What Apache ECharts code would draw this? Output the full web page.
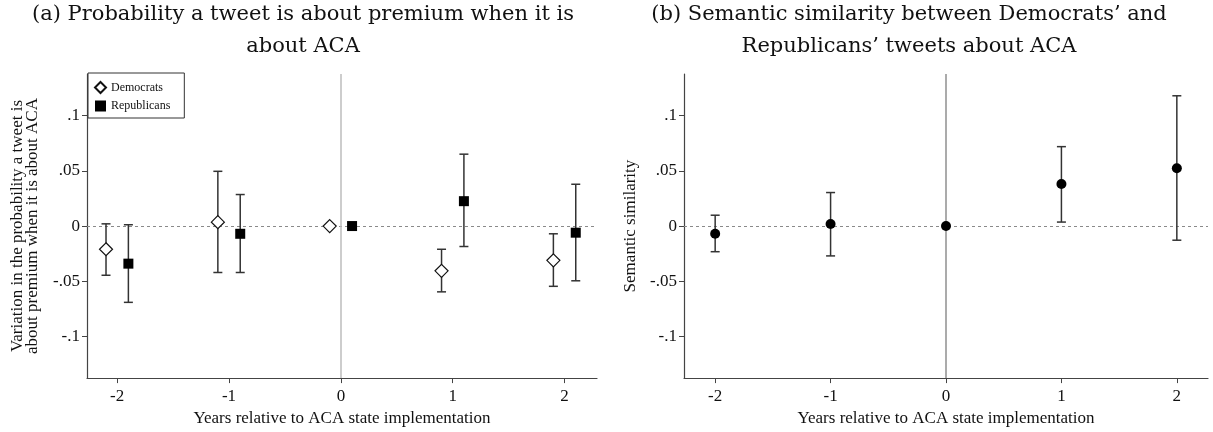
<!DOCTYPE html>
<html>
<head>
<meta charset="utf-8">
<script src="https://cdn.jsdelivr.net/npm/echarts@6/dist/echarts.min.js"></script>
<style>
html,body{margin:0;padding:0;background:#fff;}
#chart{width:1213px;height:432px;}
</style>
</head>
<body>
<div id="chart"></div>
<script>
// ---- data ----
const years = [-2, -1, 0, 1, 2];
const xTickLabels = ['-2', '-1', '0', '1', '2'];
const yTickValues = [-0.1, -0.05, 0, 0.05, 0.1];
const yTickLabels = ['-.1', '-.05', '0', '.05', '.1'];

const demEst = [-0.021, 0.0035, 0, -0.0405, -0.031];
const demLo  = [-0.0445, -0.042, null, -0.0595, -0.0545];
const demHi  = [0.002, 0.0495, null, -0.021, -0.007];

const repEst = [-0.034, -0.007, 0, 0.0225, -0.006];
const repLo  = [-0.069, -0.042, null, -0.0185, -0.0495];
const repHi  = [0.0012, 0.0285, null, 0.065, 0.0378];

const simEst = [-0.007, 0.0018, 0, 0.038, 0.0523];
const simLo  = [-0.0232, -0.027, null, 0.0036, -0.0128];
const simHi  = [0.0098, 0.0303, null, 0.0718, 0.1178];

const titleA = '(a) Probability a tweet is about premium when it is\nabout ACA';
const titleB = '(b) Semantic similarity between Democrats\u2019 and\nRepublicans\u2019 tweets about ACA';
const yNameA = 'Variation in the probability a tweet is\nabout premium when it is about ACA';
const yNameB = 'Semantic similarity';
const xName = 'Years relative to ACA state implementation';

// ---- helpers ----
const SERIF = '"Liberation Serif", "Times New Roman", serif';
const off = 0.1;

function pts(est, shift) {
  return years.map((y, i) => [y + shift, est[i]]);
}
function bars(lo, hi, shift) {
  const out = [];
  years.forEach((y, i) => {
    if (lo[i] !== null && hi[i] !== null) out.push([y + shift, lo[i], hi[i]]);
  });
  return out;
}
function errRender(params, api) {
  const x = api.value(0);
  const p1 = api.coord([x, api.value(1)]);
  const p2 = api.coord([x, api.value(2)]);
  const cap = 4.5;
  const st = { stroke: '#333', lineWidth: 1.5 };
  return {
    type: 'group',
    children: [
      { type: 'line', shape: { x1: p1[0], y1: p1[1], x2: p2[0], y2: p2[1] }, style: st },
      { type: 'line', shape: { x1: p1[0] - cap, y1: p1[1], x2: p1[0] + cap, y2: p1[1] }, style: st },
      { type: 'line', shape: { x1: p2[0] - cap, y1: p2[1], x2: p2[0] + cap, y2: p2[1] }, style: st }
    ]
  };
}
function xAxisCfg(idx, min, max) {
  return {
    type: 'value', gridIndex: idx, min: min, max: max,
    axisLine: { show: true, onZero: false, lineStyle: { color: '#444', width: 1.2 } },
    axisTick: { show: true, length: 5, lineStyle: { color: '#444' }, customValues: years },
    axisLabel: {
      customValues: years, margin: 10, color: '#111',
      fontFamily: SERIF, fontSize: 17,
      formatter: v => xTickLabels[years.indexOf(Math.round(v))]
    },
    splitLine: { show: false },
    name: xName, nameLocation: 'middle', nameGap: 28,
    nameTextStyle: { fontFamily: SERIF, fontSize: 17, color: '#111' }
  };
}
function yAxisCfg(idx, name, gap) {
  return {
    type: 'value', gridIndex: idx, min: -0.1375, max: 0.1375,
    axisLine: { show: true, onZero: false, lineStyle: { color: '#444', width: 1.2 } },
    axisTick: { show: true, length: 5, lineStyle: { color: '#444' }, customValues: yTickValues },
    axisLabel: {
      customValues: yTickValues, margin: 7, color: '#111',
      fontFamily: SERIF, fontSize: 17,
      formatter: v => {
        let k = -1;
        yTickValues.forEach((t, i) => { if (Math.abs(t - v) < 1e-9) k = i; });
        return k >= 0 ? yTickLabels[k] : '';
      }
    },
    splitLine: { show: false },
    name: name, nameLocation: 'middle', nameGap: gap,
    nameTextStyle: { fontFamily: SERIF, fontSize: 17, color: '#111', lineHeight: 15 }
  };
}
function refLines(xi, yi, vColor) {
  return {
    type: 'line', xAxisIndex: xi, yAxisIndex: yi, data: [], z: 1, silent: true,
    markLine: {
      silent: true, symbol: 'none', animation: false, z: 1,
      label: { show: false },
      data: [
        { yAxis: 0, lineStyle: { type: [3, 3], color: '#8a8a8a', width: 1 } },
        { xAxis: 0, lineStyle: { type: 'solid', color: vColor, width: 1.5 } }
      ]
    }
  };
}

const chart = echarts.init(document.getElementById('chart'));
chart.setOption({
  animation: false,
  backgroundColor: '#fff',
  title: [
    { text: titleA, left: 303, top: -1, textAlign: 'center', padding: 0,
      textStyle: { fontFamily: '"DejaVu Serif", serif', fontSize: 21, fontWeight: 'normal', color: '#111', lineHeight: 32 } },
    { text: titleB, left: 909, top: -1, textAlign: 'center', padding: 0,
      textStyle: { fontFamily: '"DejaVu Serif", serif', fontSize: 21, fontWeight: 'normal', color: '#111', lineHeight: 32 } }
  ],
  legend: {
    left: 88, top: 73, orient: 'vertical',
    padding: [8, 14, 6, 6], itemGap: 6, itemWidth: 11, itemHeight: 11,
    borderColor: '#333', borderWidth: 1, backgroundColor: '#fff',
    textStyle: { fontFamily: SERIF, fontSize: 12, color: '#111' },
    data: [{ name: 'Democrats', icon: 'diamond' }, { name: 'Republicans', icon: 'rect' }]
  },
  grid: [
    { left: 87, right: 616, top: 74, bottom: 53 },
    { left: 684, right: 5, top: 74, bottom: 53 }
  ],
  xAxis: [xAxisCfg(0, -2.27, 2.29), xAxisCfg(1, -2.27, 2.27)],
  yAxis: [yAxisCfg(0, yNameA, 47), yAxisCfg(1, yNameB, 46)],
  series: [
    refLines(0, 0, '#bdbdbd'),
    refLines(1, 1, '#8f8f8f'),
    { type: 'custom', name: 'demCI', xAxisIndex: 0, yAxisIndex: 0, z: 2,
      renderItem: errRender, encode: { x: 0, y: [1, 2] }, data: bars(demLo, demHi, -off) },
    { type: 'custom', name: 'repCI', xAxisIndex: 0, yAxisIndex: 0, z: 2,
      renderItem: errRender, encode: { x: 0, y: [1, 2] }, data: bars(repLo, repHi, off) },
    { type: 'custom', name: 'simCI', xAxisIndex: 1, yAxisIndex: 1, z: 2,
      renderItem: errRender, encode: { x: 0, y: [1, 2] }, data: bars(simLo, simHi, 0) },
    { type: 'scatter', name: 'Democrats', xAxisIndex: 0, yAxisIndex: 0, z: 3,
      symbol: 'diamond', symbolSize: 13,
      itemStyle: { color: '#fff', borderColor: '#111', borderWidth: 1.2, opacity: 1 },
      data: pts(demEst, -off) },
    { type: 'scatter', name: 'Republicans', xAxisIndex: 0, yAxisIndex: 0, z: 3,
      symbol: 'rect', symbolSize: 10,
      itemStyle: { color: '#000', opacity: 1 },
      data: pts(repEst, off) },
    { type: 'scatter', name: 'Similarity', xAxisIndex: 1, yAxisIndex: 1, z: 3,
      symbol: 'circle', symbolSize: 10,
      itemStyle: { color: '#000', opacity: 1 },
      data: pts(simEst, 0) }
  ]
});
</script>
</body>
</html>
